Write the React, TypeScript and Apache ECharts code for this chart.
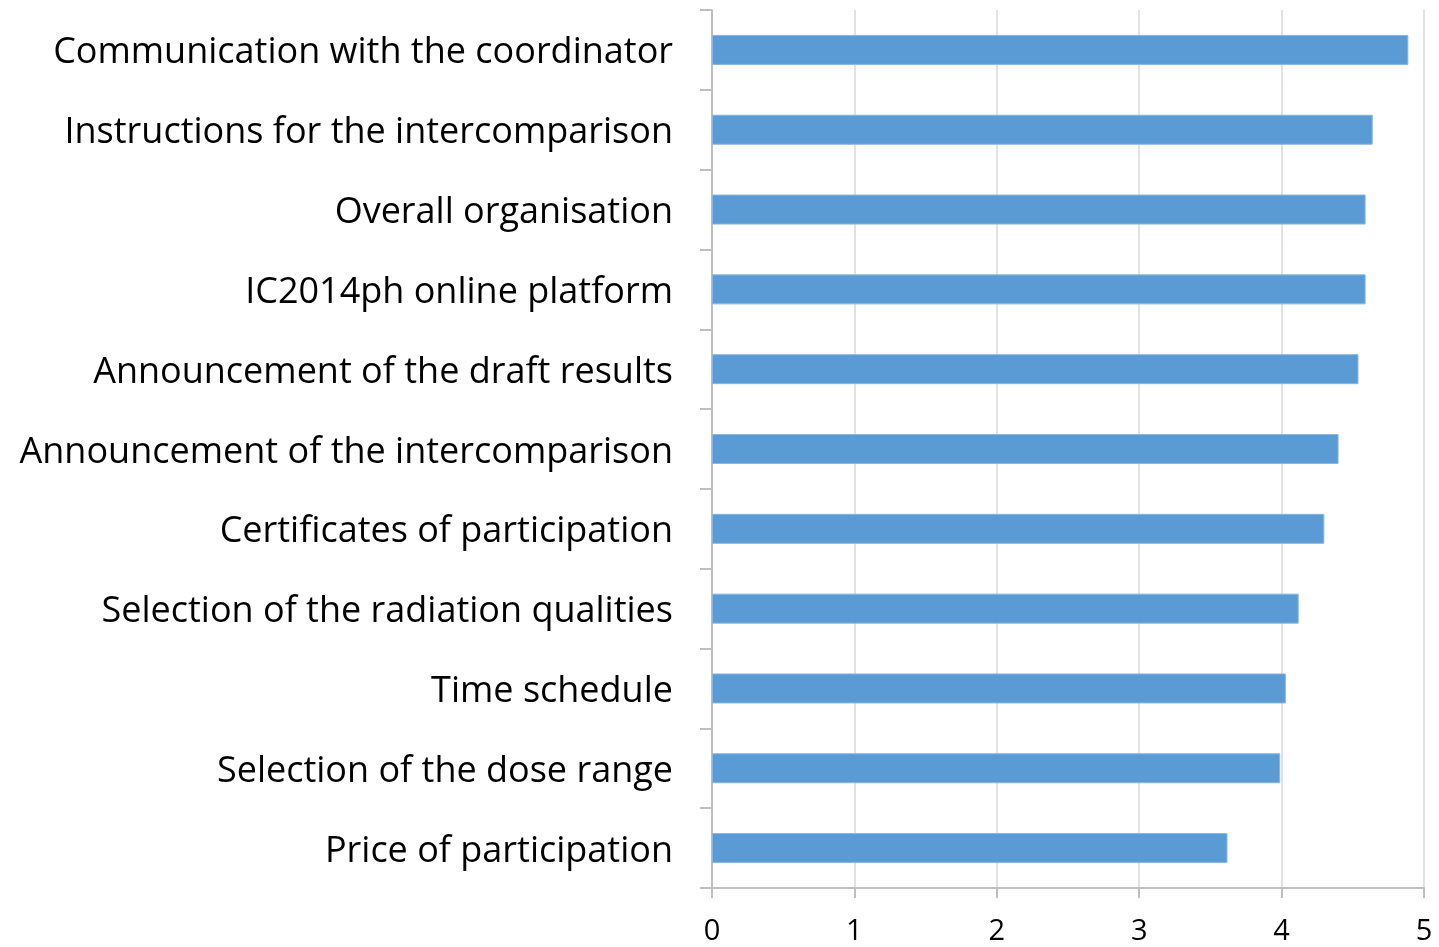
import React, { useEffect, useRef } from "react";
import * as echarts from "echarts";

const categories = [
  "Communication with the coordinator",
  "Instructions for the intercomparison",
  "Overall organisation",
  "IC2014ph online platform",
  "Announcement of the draft results",
  "Announcement of the intercomparison",
  "Certificates of participation",
  "Selection of the radiation qualities",
  "Time schedule",
  "Selection of the dose range",
  "Price of participation",
];

const scores = [4.89, 4.64, 4.59, 4.59, 4.54, 4.4, 4.3, 4.12, 4.03, 3.99, 3.62];

const xTicks = [0, 1, 2, 3, 4, 5];

export default function App() {
  const ref = useRef<HTMLDivElement>(null);
  useEffect(() => {
    if (!ref.current) return;
    const chart = echarts.init(ref.current, null, { renderer: "svg" });
    chart.setOption({
      animation: false,
      grid: { left: 712, top: 10, right: 15, bottom: 59, containLabel: false },
      xAxis: {
        type: "value",
        min: xTicks[0],
        max: xTicks[xTicks.length - 1],
        interval: 1,
        axisLine: { show: true, lineStyle: { color: "#bfbfbf", width: 2 } },
        axisTick: { show: true, length: 10, lineStyle: { color: "#bfbfbf", width: 2 } },
        splitLine: { show: true, lineStyle: { color: "#d9d9d9", width: 1.5 } },
        axisLabel: {
          color: "#000",
          fontFamily: "Open Sans",
          fontSize: 29,
          lineHeight: 29,
          margin: 26,
        },
      },
      yAxis: {
        type: "category",
        inverse: true,
        data: categories,
        axisLine: { show: true, lineStyle: { color: "#bfbfbf", width: 2 } },
        axisTick: { show: true, length: 12, lineStyle: { color: "#bfbfbf", width: 2 } },
        axisLabel: {
          color: "#000",
          fontFamily: "Open Sans",
          fontSize: 36,
          margin: 39,
        },
        splitLine: { show: false },
      },
      series: [
        {
          type: "bar",
          data: scores,
          barWidth: 30,
          itemStyle: { color: "#5b9bd5", borderColor: "#8ab6e0", borderWidth: 1 },
        },
      ],
    });
    return () => chart.dispose();
  }, []);
  return (
    <div
      ref={ref}
      style={{ position: "fixed", left: 0, top: 0, width: 1439, height: 947, overflow: "hidden" }}
    />
  );
}
